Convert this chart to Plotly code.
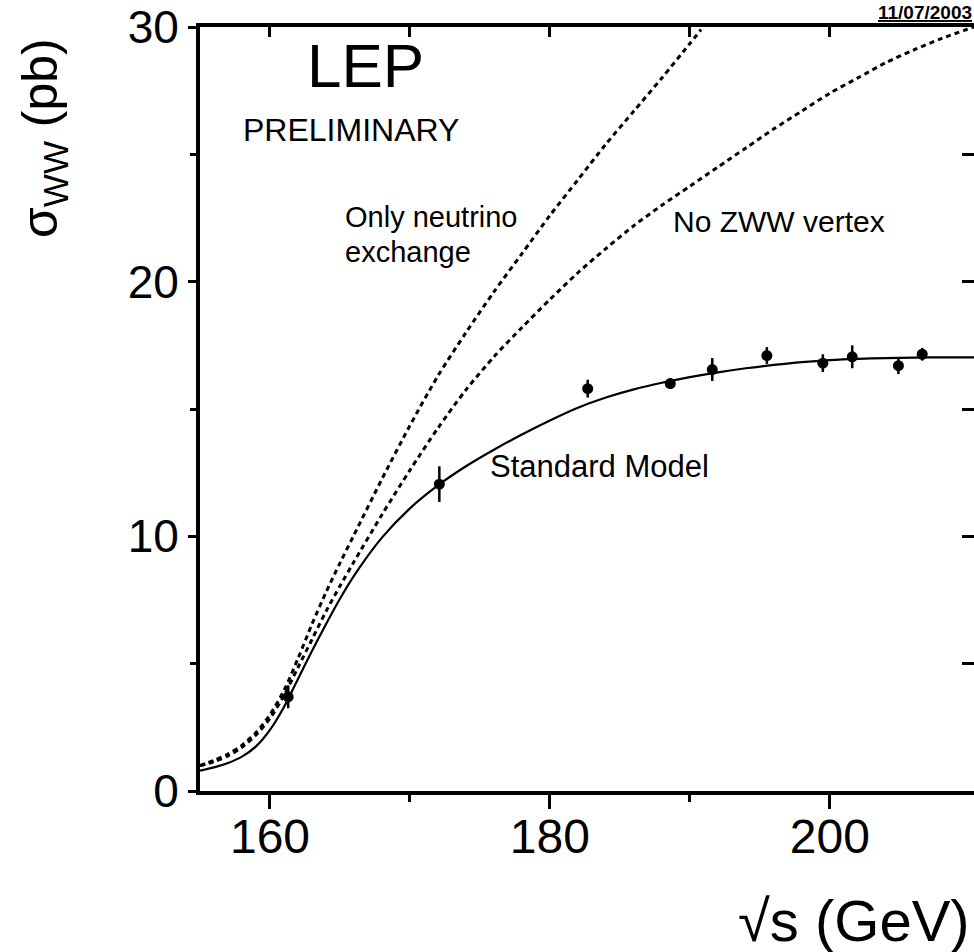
import plotly.graph_objects as go

# --- data ---
sqrt_s_data = [161.3, 172.1, 182.7, 188.6, 191.6, 195.5, 199.5, 201.6, 204.9, 206.6]
sigma_data  = [3.7, 12.05, 15.8, 16.0, 16.55, 17.1, 16.8, 17.05, 16.7, 17.15]
sigma_err   = [0.45, 0.7, 0.35, 0.2, 0.45, 0.33, 0.35, 0.45, 0.33, 0.25]

sm_x = [155, 156, 157, 158, 159, 160, 161, 162, 163, 164, 165, 166, 168, 170, 172, 174, 176, 178,
        180, 182, 184, 186, 188, 190, 192, 194, 196, 198, 200, 202, 204, 206, 208, 210.3]
sm_y = [0.8, 0.93, 1.1, 1.35, 1.75, 2.4, 3.3, 4.4, 5.5, 6.55, 7.55, 8.45, 9.95, 11.1, 12.0, 12.75, 13.4, 14.0,
        14.55, 15.05, 15.45, 15.77, 16.03, 16.25, 16.44, 16.6, 16.73, 16.84, 16.92, 16.97, 17.0, 17.02, 17.03, 17.03]

nu_x = [155, 156, 157, 158, 159, 160, 161, 162, 163, 164, 165, 166, 168, 170, 172, 174, 176, 178,
        180, 182, 184, 186, 188, 190, 190.8]
nu_y = [1.0, 1.2, 1.45, 1.8, 2.3, 3.0, 3.95, 5.2, 6.55, 7.8, 8.95, 10.05, 12.25, 14.35, 16.3, 18.0, 19.6, 21.1,
        22.6, 24.0, 25.4, 26.7, 28.0, 29.35, 29.9]

nozww_x = [155, 156, 157, 158, 159, 160, 161, 162, 163, 164, 165, 166, 168, 170, 172, 174, 176, 178,
           180, 182, 184, 186, 188, 190, 192, 194, 196, 198, 200, 202, 204, 206, 208, 210.3]
nozww_y = [1.0, 1.15, 1.38, 1.72, 2.2, 2.85, 3.75, 4.85, 5.95, 7.05, 8.05, 9.0, 10.85, 12.6, 14.25, 15.75, 17.05, 18.2,
           19.3, 20.35, 21.3, 22.2, 23.0, 23.75, 24.5, 25.25, 26.0, 26.7, 27.4, 28.0, 28.6, 29.1, 29.55, 30.0]

x_ticks = [160, 180, 200]
y_ticks = [0, 10, 20, 30]

FONT = "Liberation Sans, Arial, sans-serif"
XR = [155, 210.3]
YR = [0, 30]

fig = go.Figure()

fig.add_trace(go.Scatter(x=nu_x, y=nu_y, mode="lines",
                         line=dict(color="black", width=3, dash="5px,4px", shape="spline", smoothing=0.8),
                         showlegend=False, hoverinfo="skip"))
fig.add_trace(go.Scatter(x=nozww_x, y=nozww_y, mode="lines",
                         line=dict(color="black", width=3, dash="5px,4px", shape="spline", smoothing=0.8),
                         showlegend=False, hoverinfo="skip"))
fig.add_trace(go.Scatter(x=sm_x, y=sm_y, mode="lines",
                         line=dict(color="black", width=2.2, shape="spline", smoothing=0.8),
                         showlegend=False, hoverinfo="skip"))
fig.add_trace(go.Scatter(x=sqrt_s_data, y=sigma_data, mode="markers",
                         marker=dict(color="black", size=11, symbol="circle"),
                         error_y=dict(type="data", array=sigma_err, color="black", thickness=2.5, width=0),
                         showlegend=False))
# dummy trace for mirrored top/right axes
fig.add_trace(go.Scatter(x=[None], y=[None], xaxis="x2", yaxis="y2", showlegend=False, hoverinfo="skip"))

fig.update_layout(
    width=974, height=952,
    margin=dict(l=200, r=0, t=27, b=161),
    paper_bgcolor="white", plot_bgcolor="white",
    font=dict(family=FONT, color="black"),
    xaxis=dict(range=XR, showgrid=False, zeroline=False, showline=True, linecolor="black", linewidth=4,
               ticks="outside", tickvals=x_ticks, ticklen=14, tickwidth=3, tickcolor="black",
               ticklabelstandoff=-14,
               tickfont=dict(size=48, family=FONT, color="black"),
               minor=dict(tickvals=[170, 190], ticks="outside", ticklen=7, tickwidth=3, tickcolor="black")),
    yaxis=dict(range=YR, showgrid=False, zeroline=False, showline=True, linecolor="black", linewidth=4,
               ticks="outside", tickvals=y_ticks, ticklen=8, tickwidth=3, tickcolor="black",
               tickfont=dict(size=46, family=FONT, color="black"),
               minor=dict(tickvals=[5, 15, 25], ticks="outside", ticklen=6, tickwidth=3, tickcolor="black")),
    xaxis2=dict(range=XR, overlaying="x", side="top", anchor="y2", showgrid=False, zeroline=False,
                showline=True, linecolor="black", linewidth=4, ticks="inside", tickvals=[160, 170, 180, 190, 200],
                ticklen=10, tickwidth=3, tickcolor="black", showticklabels=False),
    yaxis2=dict(range=YR, overlaying="y", side="right", anchor="x2", showgrid=False, zeroline=False,
                showline=False, ticks="inside", tickvals=[5, 10, 15, 20, 25], ticklen=12, tickwidth=3,
                tickcolor="black", showticklabels=False),
)

# pixel -> coordinate helpers (plot area: x 200..974, y 27..791)
def px_to_y(py):
    return (791 - py) / 764 * 30

def px_to_x(px):
    return 155 + (px - 200) / 14.0

def pap_x(px):
    return (px - 200) / 774.0

def pap_y(py):
    return (791 - py) / 764.0

annots = [
    dict(text="LEP", x=px_to_x(366), y=px_to_y(65), xanchor="center", size=62),
    dict(text="PRELIMINARY", x=px_to_x(241), y=px_to_y(130), xanchor="left", size=32),
    dict(text="Only neutrino", x=px_to_x(343), y=px_to_y(217), xanchor="left", size=29),
    dict(text="exchange", x=px_to_x(343), y=px_to_y(252), xanchor="left", size=29),
    dict(text="No ZWW vertex", x=px_to_x(671), y=px_to_y(221), xanchor="left", size=30),
    dict(text="Standard Model", x=px_to_x(488), y=px_to_y(466), xanchor="left", size=31),
]
for a in annots:
    fig.add_annotation(text=a["text"], x=a["x"], y=a["y"], xref="x", yref="y", xanchor=a["xanchor"],
                       yanchor="middle", showarrow=False, font=dict(size=a["size"], family=FONT, color="black"))

fig.add_annotation(text="<b><u>11/07/2003</u></b>", x=pap_x(974), y=pap_y(12), xref="paper", yref="paper",
                   xanchor="right", yanchor="middle", showarrow=False, font=dict(size=19, family=FONT, color="black"))
fig.add_annotation(text="σ<sub>WW</sub> (pb)", x=pap_x(43), y=pap_y(138), xref="paper", yref="paper",
                   xanchor="center", yanchor="middle", textangle=-90, showarrow=False,
                   font=dict(size=50, family=FONT, color="black"))
fig.add_annotation(text="√s (GeV)", x=pap_x(972), y=pap_y(920), xref="paper", yref="paper",
                   xanchor="right", yanchor="middle", showarrow=False,
                   font=dict(size=58, family=FONT, color="black"))

fig.write_html("out.html")
